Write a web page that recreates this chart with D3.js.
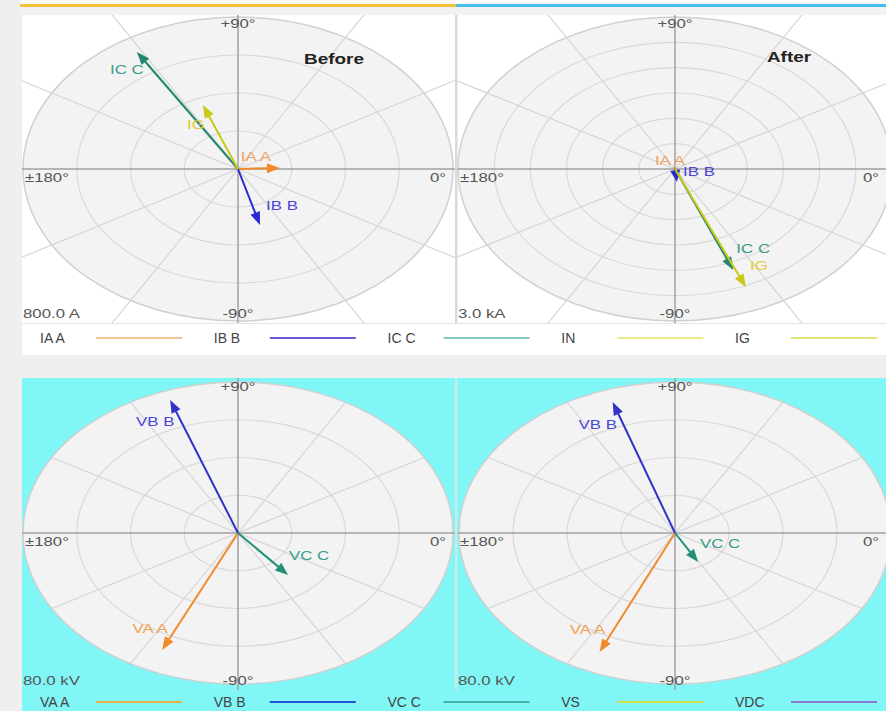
<!DOCTYPE html>
<html>
<head>
<meta charset="utf-8">
<script src="https://cdn.jsdelivr.net/npm/d3@7"></script>
<style>
  body { margin: 0; background: #efefef; }
  svg { display: block; font-family: "Liberation Sans", Arial, sans-serif; }
</style>
</head>
<body>
<svg id="chart" width="886" height="711"></svg>
<script>
// ---- phasor data ----
const currentSeries = ["IA A", "IB B", "IC C", "IN", "IG"];
const currentBeforeMag = [156, 306, 722, 0, 361];        // A
const currentBeforeAng = [2, -74.5, 121.4, 0, 111.2];    // degrees
const currentAfterMag = [0.03, 0.26, 2.15, 0, 2.53];     // kA
const currentAfterAng = [120, -84, -68, 0, -67.2];

const voltageSeries = ["VA A", "VB B", "VC C", "VS", "VDC"];
const voltageBeforeMag = [68.1, 74.9, 29.0, 0, 0];       // kV
const voltageBeforeAng = [-114.5, 109.7, -50, 0, 0];
const voltageAfterMag = [69.0, 73.1, 17.6, 0, 0];
const voltageAfterAng = [-113.9, 108.4, -60.9, 0, 0];

const angleTickLabels = ["+90°", "-90°", "±180°", "0°"];
const spokeAngles = [30, 60, 120, 150];
const scaleLabels = ["800.0 A", "3.0 kA", "80.0 kV", "80.0 kV"];
const scaleFull = [800, 3.0, 80, 80];
const ringCounts = [4, 6, 4, 4];
const panelTitles = ["Before", "After", "", ""];

// ---- styling ----
const currentArrowColors = ["#f08a2c", "#2a2ad2", "#23876f", "#d8d820", "#c9c915"];
const currentLabelColors = ["#f2a060", "#4a46d8", "#3a9c8a", "#e0cc30", "#e4c830"];
const currentLegendColors = ["#f2c890", "#6a5cd8", "#84cac2", "#eaec88", "#e2e474"];
const voltageArrowColors = ["#f08a2c", "#3232c8", "#23917a", "#c8d040", "#8070d0"];
const voltageLabelColors = ["#f2a050", "#4a46d8", "#3a9c8a", "#c8d040", "#8070d0"];
const voltageLegendColors = ["#e0b24e", "#2454d6", "#44b2a8", "#cce052", "#8a78d8"];

const svg = d3.select("#chart");
const STRETCH = 1.4;

// stretched text helper (the dial is drawn in a horizontally stretched frame)
function stext(g, x, y, str, opts) {
  const t = g.append("text")
    .attr("transform", `translate(${x},${y}) scale(${opts.sx || STRETCH},1)`)
    .attr("text-anchor", opts.anchor || "start")
    .attr("font-size", opts.size || 12)
    .attr("font-weight", opts.weight || "normal")
    .attr("fill", opts.fill || "#555")
    .text(str);
  return t;
}

// ---- page chrome ----
svg.append("rect").attr("x", 0).attr("y", 0).attr("width", 886).attr("height", 711).attr("fill", "#efefef");
svg.append("rect").attr("x", 20).attr("y", 0).attr("width", 866).attr("height", 15).attr("fill", "#f4f1f5");
svg.append("rect").attr("x", 20).attr("y", 0).attr("width", 866).attr("height", 4).attr("fill", "#fafafa");
svg.append("rect").attr("x", 20).attr("y", 4).attr("width", 436).attr("height", 3).attr("fill", "#f1c23a");
svg.append("rect").attr("x", 456).attr("y", 4).attr("width", 430).attr("height", 3).attr("fill", "#45bde6");
// bottom cyan block
svg.append("rect").attr("x", 22).attr("y", 378).attr("width", 864).attr("height", 333).attr("fill", "#80f6f6");
// top legend band
svg.append("rect").attr("x", 22).attr("y", 323).attr("width", 864).attr("height", 32).attr("fill", "#ffffff");

// ---- panels ----
const panels = [
  { x0: 22, x1: 455, y0: 15, y1: 323, cx: 238, cy: 169, rx: 215, ry: 152, bg: "#ffffff", clipSpokes: false,
    names: currentSeries, mag: currentBeforeMag, ang: currentBeforeAng,
    arrow: currentArrowColors, label: currentLabelColors,
    labelOffset: { "IA A": [-24, -7], "IB B": [22, -15], "IC C": [-10, 22], "IG": [-7, 24] } },
  { x0: 457, x1: 886, y0: 15, y1: 323, cx: 675, cy: 169, rx: 217, ry: 152, bg: "#ffffff", clipSpokes: false,
    names: currentSeries, mag: currentAfterMag, ang: currentAfterAng,
    arrow: currentArrowColors, label: currentLabelColors,
    labelOffset: { "IA A": [-4, -3], "IB B": [22, -6], "IC C": [20, -17], "IG": [13, -17] } },
  { x0: 22, x1: 455, y0: 378, y1: 690, cx: 238, cy: 533, rx: 215, ry: 151, bg: "#80f6f6", clipSpokes: true,
    names: voltageSeries, mag: voltageBeforeMag, ang: voltageBeforeAng,
    arrow: voltageArrowColors, label: voltageLabelColors,
    labelOffset: { "VA A": [-12, -17], "VB B": [-15, 26], "VC C": [21, -15] } },
  { x0: 457, x1: 886, y0: 378, y1: 690, cx: 675, cy: 533, rx: 216, ry: 151, bg: "#80f6f6", clipSpokes: true,
    names: voltageSeries, mag: voltageAfterMag, ang: voltageAfterAng,
    arrow: voltageArrowColors, label: voltageLabelColors,
    labelOffset: { "VA A": [-12, -18], "VB B": [-15, 27], "VC C": [22, -14] } }
];

const defs = svg.append("defs");

panels.forEach((p, i) => {
  const full = scaleFull[i];
  const x = d3.scaleLinear().domain([-full, full]).range([p.cx - p.rx, p.cx + p.rx]);
  const y = d3.scaleLinear().domain([-full, full]).range([p.cy + p.ry, p.cy - p.ry]);

  defs.append("clipPath").attr("id", "panel" + i)
    .append("rect").attr("x", p.x0).attr("y", p.y0).attr("width", p.x1 - p.x0).attr("height", p.y1 - p.y0);
  defs.append("clipPath").attr("id", "dial" + i)
    .append("ellipse").attr("cx", x(0)).attr("cy", y(0)).attr("rx", x(full) - x(0)).attr("ry", y(0) - y(full));

  const g = svg.append("g").attr("clip-path", `url(#panel${i})`);
  g.append("rect").attr("x", p.x0).attr("y", p.y0).attr("width", p.x1 - p.x0).attr("height", p.y1 - p.y0).attr("fill", p.bg);

  // dial face and rings
  g.append("ellipse")
    .attr("cx", x(0)).attr("cy", y(0)).attr("rx", x(full) - x(0)).attr("ry", y(0) - y(full))
    .attr("fill", "#f3f3f3").attr("stroke", "#d0d0d0").attr("stroke-width", 1.5);
  const ringVals = d3.range(1, ringCounts[i]).map(k => full * k / ringCounts[i]);
  g.selectAll("ellipse.ring").data(ringVals).join("ellipse").attr("class", "ring")
    .attr("cx", x(0)).attr("cy", y(0))
    .attr("rx", v => x(v) - x(0)).attr("ry", v => y(0) - y(v))
    .attr("fill", "none").attr("stroke", "#d9d9d9").attr("stroke-width", 1.2);

  // angular spokes
  const sg = g.append("g");
  if (p.clipSpokes) sg.attr("clip-path", `url(#dial${i})`);
  sg.selectAll("line").data(spokeAngles).join("line")
    .attr("x1", a => x(-3 * full * Math.cos(a * Math.PI / 180)))
    .attr("y1", a => y(-3 * full * Math.sin(a * Math.PI / 180)))
    .attr("x2", a => x(3 * full * Math.cos(a * Math.PI / 180)))
    .attr("y2", a => y(3 * full * Math.sin(a * Math.PI / 180)))
    .attr("stroke", "#d6d6d6").attr("stroke-width", 1.2);

  // main axes
  g.append("line").attr("x1", p.x0).attr("x2", p.x1).attr("y1", y(0)).attr("y2", y(0))
    .attr("stroke", "#a0a0a0").attr("stroke-width", 1.5);
  g.append("line").attr("x1", x(0)).attr("x2", x(0)).attr("y1", p.y0).attr("y2", p.y1)
    .attr("stroke", "#a0a0a0").attr("stroke-width", 1.5);

  // angle tick labels
  stext(g, x(0), p.y0 + 13, angleTickLabels[0], { anchor: "middle" });
  stext(g, x(0), p.y1 - 5, angleTickLabels[1], { anchor: "middle" });
  stext(g, p.x0 + 3, y(0) + 13, angleTickLabels[2], {});
  stext(g, Math.min(x(full), p.x1) - 7, y(0) + 13, angleTickLabels[3], { anchor: "end" });
  stext(g, p.x0 + 1, p.y1 - 5, scaleLabels[i], { size: 12 });
  if (panelTitles[i]) {
    stext(g, i === 0 ? 334 : 789, i === 0 ? 64 : 62, panelTitles[i], { anchor: "middle", size: 14, weight: "bold", fill: "#222", sx: 1.35 });
  }

  // phasor arrows
  const vecs = p.names.map((n, k) => ({ name: n, m: p.mag[k], a: p.ang[k], k }))
    .filter(d => d.m > 0);
  vecs.forEach(d => {
    const rad = d.a * Math.PI / 180;
    const x0 = x(0), y0 = y(0);
    const xt = x(d.m * Math.cos(rad)), yt = y(d.m * Math.sin(rad));
    const len = Math.hypot(xt - x0, yt - y0);
    const ux = (xt - x0) / len, uy = (yt - y0) / len;
    const h = Math.min(13, len * 0.9), w = Math.min(5, len * 0.4);
    const bx = xt - ux * h, by = yt - uy * h;
    const col = p.arrow[d.k];
    g.append("line").attr("x1", x0).attr("y1", y0).attr("x2", bx + ux * 2).attr("y2", by + uy * 2)
      .attr("stroke", col).attr("stroke-width", 2);
    g.append("path")
      .attr("d", `M${xt},${yt}L${bx - uy * w},${by + ux * w}L${bx + uy * w},${by - ux * w}Z`)
      .attr("fill", col);
    const off = p.labelOffset[d.name] || [10, -10];
    stext(g, xt + off[0], yt + off[1], d.name, { anchor: "middle", size: 13, fill: p.label[d.k], sx: 1.3 });
  });
});

// panel dividers
svg.append("rect").attr("x", 455).attr("y", 15).attr("width", 2.5).attr("height", 308).attr("fill", "#d9d9d9");
svg.append("rect").attr("x", 455).attr("y", 378).attr("width", 2.5).attr("height", 312).attr("fill", "#c8eaea");
svg.append("line").attr("x1", 22).attr("x2", 886).attr("y1", 323.5).attr("y2", 323.5).attr("stroke", "#e4e4e4");

// ---- legends ----
function legend(names, colors, yLine) {
  const pos = d3.scaleLinear().domain([0, names.length - 1]).range([40, 735]);
  const g = svg.append("g");
  names.forEach((n, k) => {
    const x0 = pos(k);
    g.append("text").attr("x", x0).attr("y", yLine + 5).attr("font-size", 14)
      .attr("fill", "#444").text(n);
    g.append("line").attr("x1", x0 + 56).attr("x2", x0 + 142).attr("y1", yLine).attr("y2", yLine)
      .attr("stroke", colors[k]).attr("stroke-width", 2);
  });
}
legend(currentSeries, currentLegendColors, 338);
legend(voltageSeries, voltageLegendColors, 702);
</script>
</body>
</html>
